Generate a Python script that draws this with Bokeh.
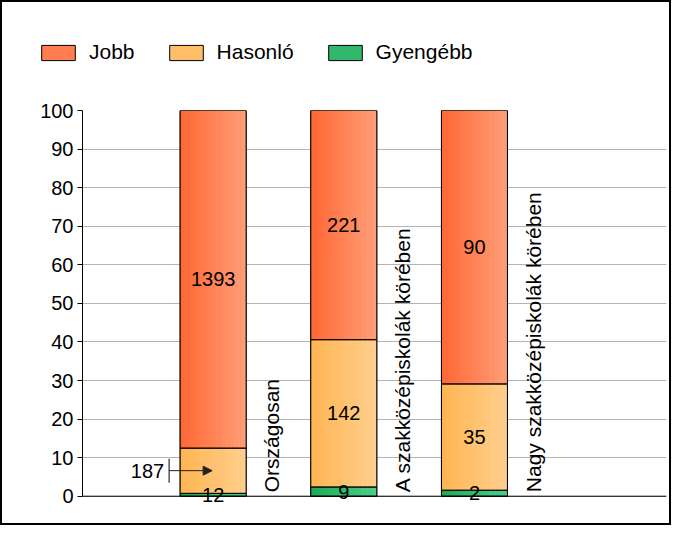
import numpy as np
from bokeh.plotting import figure
from bokeh.layouts import column
from bokeh.models import (ColumnDataSource, Range1d, Legend, LegendItem,
                          FixedTicker, Arrow, NormalHead, Span)
from bokeh.core.properties import value
from bokeh.embed import file_html
from bokeh.resources import INLINE

# ---------------- data ----------------
categories = ["Országosan", "A szakközépiskolák körében", "Nagy szakközépiskolák körében"]
series_names = ["Jobb", "Hasonló", "Gyengébb"]
jobb = [1393, 221, 90]
hasonlo = [187, 142, 35]
gyengebb = [12, 9, 2]
y_ticks = [0, 10, 20, 30, 40, 50, 60, 70, 80, 90, 100]

# ---------------- style ----------------
FONT = "Liberation Sans"
col_left = {"Jobb": (255, 102, 51), "Hasonló": (255, 180, 80), "Gyengébb": (31, 167, 88)}
col_right = {"Jobb": (255, 160, 122), "Hasonló": (255, 208, 144), "Gyengébb": (76, 207, 140)}
N_STRIPS = 24
BAR_W = 0.505
X_END = 4.47
Y_START = -5
FRAME_W, FRAME_H = 584, 405
PX_X = X_END / FRAME_W               # data units per pixel (x)
PX_Y = (100.0 - Y_START) / FRAME_H   # data units per pixel (y)

def hexc(c):
    return "#%02x%02x%02x" % tuple(int(round(v)) for v in c)

def mix(a, b, t):
    return tuple(a[i] + (b[i] - a[i]) * t for i in range(3))

# ---------------- derived stacks (percent) ----------------
vals = {"Jobb": np.array(jobb, float), "Hasonló": np.array(hasonlo, float),
        "Gyengébb": np.array(gyengebb, float)}
total = vals["Jobb"] + vals["Hasonló"] + vals["Gyengébb"]
xs = np.arange(1, len(categories) + 1, dtype=float)
stack_order = ["Gyengébb", "Hasonló", "Jobb"]
bottoms, tops = {}, {}
acc = np.zeros(len(categories))
for s in stack_order:
    pct = vals[s] / total * 100.0
    bottoms[s] = acc.copy()
    tops[s] = acc + pct
    acc = acc + pct

W = 667
LEG_H = 90
MAIN_H = 521 - LEG_H

# ---------------- legend strip (top) ----------------
lf = figure(width=W, height=LEG_H, output_backend="svg", toolbar_location=None,
            x_range=Range1d(0, 1), y_range=Range1d(0, 1), title=None,
            x_axis_type=None, y_axis_type=None,
            min_border_left=0, min_border_right=0, min_border_top=3, min_border_bottom=0)
lf.frame_align = False
lf.grid.grid_line_color = None
lf.outline_line_color = None
lf.border_fill_color = "white"
leg_items = []
for idx, s in enumerate(series_names):
    mid = hexc(mix(col_left[s], col_right[s], 0.4))
    src = ColumnDataSource(dict(left=[xs[0]], right=[xs[0]], bottom=[0], top=[0]))
    r = lf.quad(left="left", right="right", bottom="bottom", top="top", source=src,
                fill_color=mid, line_color="black", line_width=1)
    r.visible = False
    leg_items.append(LegendItem(label=s, renderers=[r]))
legend = Legend(items=leg_items, orientation="horizontal", location="top_left",
                glyph_width=42, glyph_height=19, label_height=19, label_standoff=10,
                spacing=30, padding=0, margin=35, border_line_color=None,
                background_fill_alpha=0, label_text_font=FONT,
                label_text_font_size="21px", label_text_color="black",
                label_text_baseline="middle")
lf.add_layout(legend, "center")

# ---------------- main chart ----------------
fig = figure(width=W, height=MAIN_H, output_backend="svg", toolbar_location=None,
             x_range=Range1d(0, X_END), y_range=Range1d(Y_START, 100), title=None,
             min_border_left=80, min_border_top=18, min_border_right=3,
             min_border_bottom=8)
fig.frame_align = False
fig.outline_line_color = None
fig.background_fill_color = "white"
fig.border_fill_color = "white"

fig.yaxis.ticker = FixedTicker(ticks=y_ticks)
fig.yaxis.bounds = (0, 100)
fig.yaxis.major_label_text_font = FONT
fig.yaxis.major_label_text_font_size = "20px"
fig.yaxis.major_label_text_color = "black"
fig.yaxis.axis_line_color = "black"
fig.yaxis.major_tick_line_color = "black"
fig.yaxis.major_tick_out = 5
fig.yaxis.major_tick_in = 0
fig.yaxis.minor_tick_line_color = None
fig.yaxis.major_label_standoff = 4
fig.xaxis.visible = False
fig.xgrid.grid_line_color = None
fig.ygrid.grid_line_color = "#b4b4b4"
fig.ygrid.grid_line_width = 1
fig.add_layout(Span(location=0, dimension="width", line_color="black", line_width=1))

for s in stack_order:
    left = xs - BAR_W / 2
    right = xs + BAR_W / 2
    mid = hexc(mix(col_left[s], col_right[s], 0.4))
    src = ColumnDataSource(dict(left=left, right=right, bottom=bottoms[s], top=tops[s]))
    fig.quad(left="left", right="right", bottom="bottom", top="top", source=src,
             fill_color=mid, line_color="black", line_width=1)
    # gradient strips
    sl, sr, sb, st, sc = [], [], [], [], []
    for i in range(len(xs)):
        for k in range(N_STRIPS):
            sl.append(left[i] + BAR_W * k / N_STRIPS)
            sr.append(left[i] + BAR_W * (k + 1) / N_STRIPS + 0.0005)
            sb.append(bottoms[s][i])
            st.append(tops[s][i])
            sc.append(hexc(mix(col_left[s], col_right[s], (k + 0.5) / N_STRIPS)))
    fig.quad(left=sl, right=sr, bottom=sb, top=st, fill_color=sc, line_color=None)
    fig.quad(left="left", right="right", bottom="bottom", top="top", source=src,
             fill_color=None, line_color="black", line_width=1)

# value labels
for s in stack_order:
    center = (bottoms[s] + tops[s]) / 2
    pct = tops[s] - bottoms[s]
    inside = np.ones(len(xs), bool)
    if s == "Hasonló":
        inside = pct >= 15
    lab = [str(int(v)) for v in vals[s]]
    xi = [xs[i] for i in range(len(xs)) if inside[i]]
    yi = [center[i] for i in range(len(xs)) if inside[i]]
    ti = [lab[i] for i in range(len(xs)) if inside[i]]
    fig.text(x=xi, y=yi, text=ti, text_font=value(FONT), text_font_size="20px",
             text_color="black", text_align="center", text_baseline="middle",
             level="overlay")
    for i in range(len(xs)):
        if inside[i]:
            continue
        bl = xs[i] - BAR_W / 2
        tick_x = bl - 11 * PX_X
        fig.segment(x0=[tick_x], y0=[center[i] - 12 * PX_Y], x1=[tick_x],
                    y1=[center[i] + 12 * PX_Y], line_color="#555555", line_width=1.5)
        fig.add_layout(Arrow(end=NormalHead(size=9, fill_color="#222222", line_color="#222222"),
                             x_start=tick_x, y_start=center[i], x_end=xs[i] - 1 * PX_X,
                             y_end=center[i], line_color="#222222", line_width=1))
        fig.text(x=[bl - 16 * PX_X], y=[center[i]], text=[lab[i]], text_font=value(FONT),
                 text_font_size="20px", text_color="black", text_align="right",
                 text_baseline="middle")

# category labels (rotated)
fig.text(x=list(xs + 0.45), y=[0] * len(xs), text=categories, angle=np.pi / 2,
         y_offset=-4, text_font=value(FONT), text_font_size="21px", text_color="black",
         text_align="left", text_baseline="middle")

p = column(lf, fig, spacing=0)
p.styles = {"border": "2px solid black", "background-color": "white"}

open("out.html", "w").write(file_html(p, INLINE))
